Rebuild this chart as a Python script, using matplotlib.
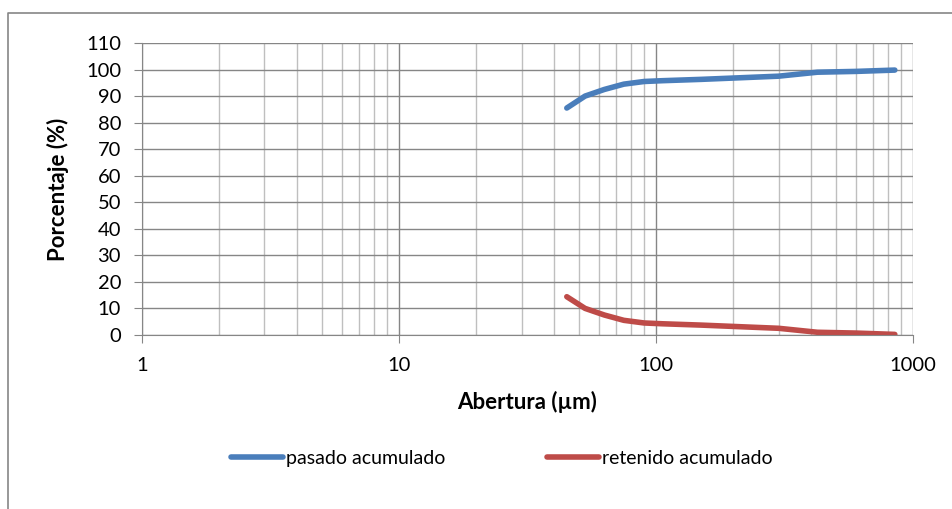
import matplotlib.pyplot as plt
from matplotlib.lines import Line2D
import numpy as np

plt.rcParams['font.family'] = ['Lato', 'DejaVu Sans']

abertura = [45, 53, 63, 75, 90, 106, 150, 212, 300, 425, 600, 850]
pasado = [85.5, 90.0, 92.5, 94.5, 95.5, 95.8, 96.3, 96.9, 97.5, 99.0, 99.3, 99.8]
retenido = [14.4, 10.0, 7.5, 5.5, 4.5, 4.2, 3.7, 3.1, 2.5, 1.0, 0.7, 0.2]

fig = plt.figure(figsize=(9.52, 5.09), dpi=100)
ax = fig.add_axes([0.149, 0.342, 0.81, 0.5735])

ax.plot(abertura, pasado, color='#4a7ebb', lw=4, solid_capstyle='round', label='pasado acumulado')
ax.plot(abertura, retenido, color='#be4b48', lw=4, solid_capstyle='round', label='retenido acumulado')

ax.set_xscale('log')
ax.set_xlim(1, 1000)
ax.set_ylim(0, 110)
ax.set_yticks(np.arange(0, 111, 10))
ax.set_xticks([1, 10, 100, 1000])
ax.set_xticklabels(['1', '10', '100', '1000'])
ax.minorticks_on()
ax.yaxis.set_minor_locator(plt.NullLocator())

ax.grid(which='major', color='#868686', lw=1)
ax.grid(which='minor', axis='x', color='#bfbfbf', lw=1)
ax.set_axisbelow(True)

for s in ['top', 'right']:
    ax.spines[s].set_visible(False)
for s in ['left', 'bottom']:
    ax.spines[s].set_color('#868686')
ax.tick_params(which='major', length=6, color='#868686', labelsize=14.5)
ax.tick_params(which='minor', length=0)
ax.tick_params(axis='y', pad=9)
ax.tick_params(axis='x', pad=10)

ax.set_ylabel('Porcentaje (%)', fontsize=16, fontweight='bold', labelpad=12)
ax.set_xlabel('Abertura (µm)', fontsize=16, fontweight='bold', labelpad=12)

fig.legend(handles=ax.get_lines(), loc='center', bbox_to_anchor=(0.527, 0.1), ncol=2, frameon=False,
           fontsize=14, handlelength=2.7, handletextpad=0.15, columnspacing=5.2)

fig.add_artist(Line2D([0.0085, 0.0085, 1.0], [0.0, 0.974, 0.974], transform=fig.transFigure,
                      color='#868686', lw=1.2))

fig.savefig('out.png', dpi=100)
